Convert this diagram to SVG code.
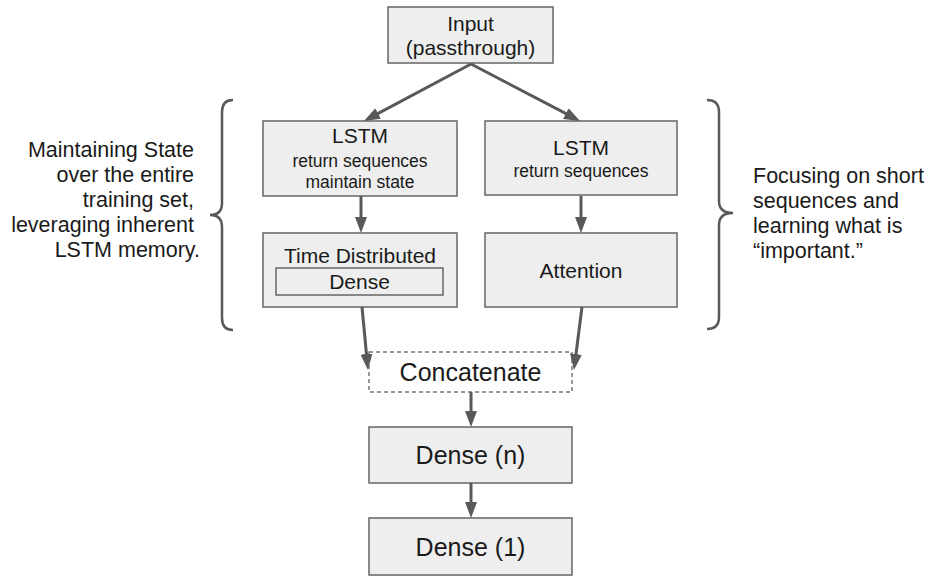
<svg xmlns="http://www.w3.org/2000/svg" width="928" height="576" viewBox="0 0 928 576">
<style>
.box{fill:#eeeeee;stroke:#666666;stroke-width:1.5}
.dash{fill:#ffffff;stroke:#777777;stroke-width:1.5;stroke-dasharray:4 3}
.t{font-family:"Liberation Sans",Arial,sans-serif;fill:#1a1a1a;text-anchor:middle}
.side{font-family:"Liberation Sans",Arial,sans-serif;fill:#1a1a1a;font-size:21.5px}
.conn line{stroke:#595959;stroke-width:3;marker-end:url(#ah)}
.brace{fill:none;stroke:#595959;stroke-width:2.5}
</style>
<defs>
<marker id="ah" markerUnits="userSpaceOnUse" markerWidth="17" markerHeight="13" refX="11" refY="6" orient="auto">
<path d="M0,0 L16,6 L0,12 z" fill="#595959"/>
</marker>
</defs>
<rect width="928" height="576" fill="#ffffff"/>

<g id="input">
<rect class="box" x="388" y="7" width="165" height="56"/>
<text class="t" x="470.5" y="31" font-size="21">Input</text>
<text class="t" x="470.5" y="55" font-size="21">(passthrough)</text>
</g>

<g id="lstm-left">
<rect class="box" x="263" y="121" width="194" height="75"/>
<text class="t" x="360" y="143" font-size="21">LSTM</text>
<text class="t" x="360" y="167" font-size="17.5">return sequences</text>
<text class="t" x="360" y="188" font-size="17.5">maintain state</text>
</g>

<g id="lstm-right">
<rect class="box" x="485" y="121" width="192" height="74"/>
<text class="t" x="581" y="155" font-size="21">LSTM</text>
<text class="t" x="581" y="177" font-size="17.5">return sequences</text>
</g>

<g id="time-distributed">
<rect class="box" x="263" y="233" width="194" height="74"/>
<text class="t" x="360" y="263" font-size="21">Time Distributed</text>
<rect class="box" x="276" y="268" width="167" height="27"/>
<text class="t" x="359.5" y="289" font-size="21">Dense</text>
</g>

<g id="attention">
<rect class="box" x="485" y="233" width="192" height="74"/>
<text class="t" x="581" y="278" font-size="21">Attention</text>
</g>

<g id="concatenate">
<rect class="dash" x="369" y="352" width="203" height="40"/>
<text class="t" x="470.5" y="381" font-size="25">Concatenate</text>
</g>

<g id="dense-n">
<rect class="box" x="369" y="427" width="203" height="56"/>
<text class="t" x="470.5" y="464" font-size="25">Dense (n)</text>
</g>

<g id="dense-1">
<rect class="box" x="369" y="518" width="203" height="57"/>
<text class="t" x="470.5" y="556" font-size="25">Dense (1)</text>
</g>

<g id="left-note">
<path class="brace" d="M233,100 Q222,100 222,112 L222,203 Q222,215 210,215 Q222,215 222,227 L222,318 Q222,330 233,330"/>
<text class="side" text-anchor="end">
<tspan x="200" y="157">Maintaining State</tspan>
<tspan x="200" y="182">over the entire</tspan>
<tspan x="200" y="207">training set,</tspan>
<tspan x="200" y="232">leveraging inherent</tspan>
<tspan x="200" y="257">LSTM memory.</tspan>
</text>
</g>

<g id="right-note">
<path class="brace" d="M707,100 Q719,100 719,112 L719,201 Q719,213 733,213 Q719,213 719,225 L719,317 Q719,329 707,329"/>
<text class="side">
<tspan x="753" y="183">Focusing on short</tspan>
<tspan x="753" y="208">sequences and</tspan>
<tspan x="753" y="233">learning what is</tspan>
<tspan x="753" y="258">“important.”</tspan>
</text>
</g>

<g id="connectors" class="conn">
<line x1="471" y1="64" x2="368.4" y2="118.6"/>
<line x1="471" y1="64" x2="575.6" y2="118.7"/>
<line x1="361" y1="196" x2="361" y2="228"/>
<line x1="581" y1="196" x2="581" y2="228"/>
<line x1="362" y1="307" x2="367.5" y2="365"/>
<line x1="582" y1="307" x2="574.6" y2="365"/>
<line x1="471" y1="392" x2="471" y2="422"/>
<line x1="471" y1="483" x2="471" y2="513"/>
</g>
</svg>
